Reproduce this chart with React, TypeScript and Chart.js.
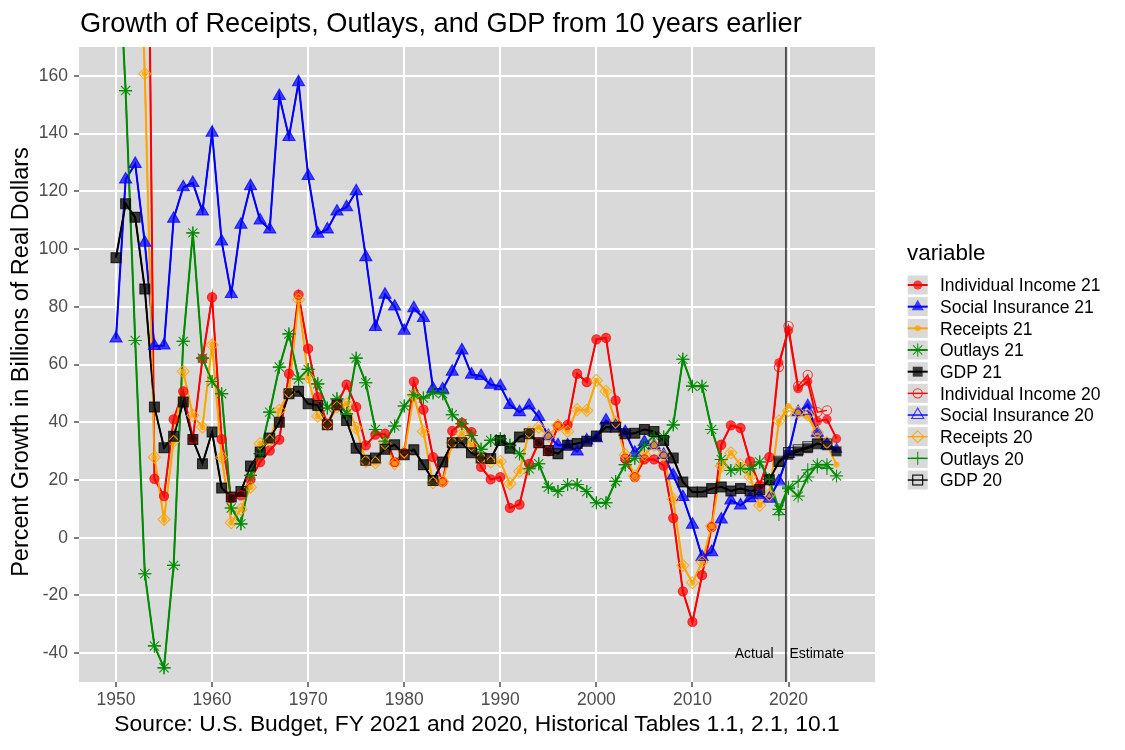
import React, { useEffect, useRef } from "react";
import { Chart, registerables } from "chart.js";

Chart.register(...registerables);

const FONT = "'Liberation Sans', Arial, Helvetica, sans-serif";

// ---------- data ----------
const years = [
  1950, 1951, 1952, 1953, 1954, 1955, 1956, 1957, 1958, 1959,
  1960, 1961, 1962, 1963, 1964, 1965, 1966, 1967, 1968, 1969,
  1970, 1971, 1972, 1973, 1974, 1975, 1976, 1977, 1978, 1979,
  1980, 1981, 1982, 1983, 1984, 1985, 1986, 1987, 1988, 1989,
  1990, 1991, 1992, 1993, 1994, 1995, 1996, 1997, 1998, 1999,
  2000, 2001, 2002, 2003, 2004, 2005, 2006, 2007, 2008, 2009,
  2010, 2011, 2012, 2013, 2014, 2015, 2016, 2017, 2018, 2019,
  2020, 2021, 2022, 2023, 2024, 2025,
];

const individualIncome21 = [
  900, 700, 520, 345, 20.4, 14.4, 41, 50.7, 34.3, 62,
  83.3, 34.1, 13.7, 14.7, 20.2, 26.2, 30.2, 34, 56.8, 84.2,
  65.5, 48.7, 39.5, 46, 53, 45.3, 32, 35.7, 36, 26.2,
  29.4, 54.1, 44.4, 27.9, 19.3, 37, 39.8, 36.6, 24.5, 20.2,
  21, 10.3, 11.5, 25.6, 32.9, 29.9, 38.7, 39.1, 56.8, 53.9,
  68.7, 69.2, 47.6, 27.4, 21, 27.1, 27.1, 25, 6.8, -18.6,
  -29.2, -13, 3.7, 32.2, 38.9, 38, 26.4, 18.1, 27.9, 60.6,
  71.8, 51.6, 54.1, 40.3, 41, 34.3,
];

const socialInsurance21 = [
  69, 124.1, 129.5, 102.2, 66.4, 66.6, 110.5, 121.4, 122.9, 113,
  140.3, 102.6, 84.4, 108.4, 121.8, 109.9, 106.8, 153, 138.8, 157.8,
  125.3, 105.3, 106.8, 113, 114.5, 120, 97.2, 73, 84.2, 80.1,
  71.7, 79.5, 76.1, 51.6, 51.4, 57.5, 64.9, 56.5, 56, 53,
  52.5, 46, 43.5, 45.8, 41.8, 35.2, 32, 32, 29.9, 33.7,
  34.5, 40.6, 38.7, 36.6, 29.4, 33.1, 32, 28.7, 21.6, 14.1,
  4.5, -6.7, -5, 6.3, 12.9, 11.2, 13.7, 14.7, 13.5, 19.8,
  29.4, 43.5, 46, 36, 32.6, 30.6,
];

const receipts21 = [
  300, 330, 251, 160.7, 27.9, 6.3, 33.4, 57.6, 42.4, 38.3,
  66.8, 27.9, 5.2, 9.8, 17.5, 32.6, 33.7, 44.1, 50.4, 82.5,
  55.6, 42.1, 39.1, 45.3, 46.4, 38, 26.4, 26, 32.6, 25.6,
  29.7, 49.3, 36.8, 19, 19.5, 32.9, 36, 32, 27.6, 26.2,
  26.4, 18.7, 23, 36.6, 38.3, 35.2, 38.9, 36.8, 44.4, 44.1,
  54.5, 50.7, 40, 28.7, 21.4, 28.7, 32, 28.5, 13.3, -9.6,
  -15.6, -8.4, 4, 24.8, 29.4, 25.3, 21, 11.2, 14.9, 40.3,
  45.6, 43.3, 42.1, 35.4, 32.2, 25.3,
];

const outlays21 = [
  223, 154.9, 68.3, -12.5, -37.5, -45.1, -9.6, 68, 105.6, 62.2,
  54.1, 49.9, 10.3, 4.8, 21.6, 29.1, 43.5, 59.1, 70.6, 55,
  58.3, 53.3, 44.9, 48.1, 42.9, 62.2, 53.7, 37.5, 33.4, 38.7,
  45.6, 49.5, 48.4, 50.2, 49.9, 42.6, 39.5, 35.4, 30.6, 33.7,
  34.3, 32, 29.1, 23.9, 25.6, 17.5, 16, 18.4, 18.4, 16,
  12.1, 12.1, 19.5, 25.3, 27.5, 32, 35.4, 34.9, 39.1, 61.8,
  52.5, 52.5, 37.5, 27.1, 23.3, 23.9, 23.9, 26.2, 20.2, 9.8,
  17.5, 14.4, 21, 25.3, 25.3, 21.4,
];

const gdp21 = [
  97, 115.7, 111, 86.2, 45.3, 31.2, 35.1, 47, 34, 25.6,
  36.6, 17.2, 14.1, 16, 24.8, 29.7, 34.5, 40, 49.9, 50.7,
  46.4, 45.8, 39.1, 46, 40.6, 31, 26.8, 27.6, 30.6, 32.2,
  28.7, 30.5, 25.3, 19.8, 26.2, 32.9, 32.9, 29.4, 27.6, 27.4,
  33.7, 31, 34.9, 36, 32.9, 30.2, 29.1, 32, 32.6, 33.4,
  35.2, 38.3, 38.3, 36, 36.2, 37.5, 36.8, 33.7, 27.6, 19.3,
  15.8, 15.8, 17, 17.6, 16.2, 17, 16.2, 16.7, 20.1, 26.2,
  28.7, 29.9, 31, 32.6, 32, 29.9,
];

// FY2020 budget: same actuals through 2018 (read as overlapping), own estimates 2019-2024
const actualCount = 69; // 1950..2018
const individualIncome20 = [...individualIncome21.slice(0, actualCount), 59.1, 73.3, 52.5, 56.4, 43.5, 44.1];
const socialInsurance20 = [...socialInsurance21.slice(0, actualCount), 19.5, 29, 43.5, 44, 36.5, 32];
const receipts20 = [...receipts21.slice(0, actualCount), 40.5, 44, 43.5, 42.5, 36.5, 33];
const outlays20 = [...outlays21.slice(0, actualCount), 8, 17, 19.5, 23.5, 24.5, 24];
const gdp20 = [...gdp21.slice(0, actualCount), 26.5, 29.5, 30.5, 31.5, 32.5, 32.5];

const xTicks = [1950, 1960, 1970, 1980, 1990, 2000, 2010, 2020];
const yTicks = [-40, -20, 0, 20, 40, 60, 80, 100, 120, 140, 160];
const dividerYear = 2019.73;

// ---------- styles ----------
type Series = {
  label: string;
  data: number[];
  color: string;
  fill: string;
  style: string;
  radius: number;
  filled: boolean;
  lineWidth: number;
};

const series: Series[] = [
  { label: "Individual Income 21", data: individualIncome21, color: "#FF0000", fill: "rgba(255,0,0,0.72)", style: "circle", radius: 4.6, filled: true, lineWidth: 2 },
  { label: "Social Insurance 21", data: socialInsurance21, color: "#0000FF", fill: "rgba(0,0,255,0.72)", style: "triangle", radius: 7, filled: true, lineWidth: 2 },
  { label: "Receipts 21", data: receipts21, color: "#FFA500", fill: "rgba(255,165,0,0.8)", style: "circle", radius: 3, filled: true, lineWidth: 2 },
  { label: "Outlays 21", data: outlays21, color: "#008B00", fill: "rgba(0,139,0,0.9)", style: "star", radius: 6.5, filled: false, lineWidth: 2 },
  { label: "GDP 21", data: gdp21, color: "#000000", fill: "rgba(0,0,0,0.75)", style: "rect", radius: 7, filled: true, lineWidth: 2 },
  { label: "Individual Income 20", data: individualIncome20, color: "#FF0000", fill: "rgba(255,0,0,0.75)", style: "circle", radius: 4.6, filled: false, lineWidth: 1.4 },
  { label: "Social Insurance 20", data: socialInsurance20, color: "#0000FF", fill: "rgba(0,0,255,0.75)", style: "triangle", radius: 7, filled: false, lineWidth: 1.4 },
  { label: "Receipts 20", data: receipts20, color: "#FFA500", fill: "rgba(255,165,0,0.85)", style: "rectRot", radius: 6, filled: false, lineWidth: 1.4 },
  { label: "Outlays 20", data: outlays20, color: "#008B00", fill: "rgba(0,139,0,0.9)", style: "cross", radius: 6.5, filled: false, lineWidth: 1.4 },
  { label: "GDP 20", data: gdp20, color: "#000000", fill: "rgba(0,0,0,0.75)", style: "rect", radius: 7, filled: false, lineWidth: 1.4 },
];

const toPoints = (arr: number[]) => arr.map((v, i) => ({ x: years[i], y: v }));

const panelPlugin = {
  id: "panelBg",
  beforeDraw(chart: any) {
    const { ctx, chartArea } = chart;
    ctx.save();
    ctx.fillStyle = "#D9D9D9";
    ctx.fillRect(chartArea.left, chartArea.top, chartArea.right - chartArea.left, chartArea.bottom - chartArea.top);
    ctx.restore();
  },
  beforeDatasetsDraw(chart: any) {
    const { ctx, chartArea, scales } = chart;
    const x = scales.x.getPixelForValue(dividerYear);
    ctx.save();
    ctx.beginPath();
    ctx.rect(chartArea.left, chartArea.top, chartArea.right - chartArea.left, chartArea.bottom - chartArea.top);
    ctx.clip();
    ctx.strokeStyle = "#000";
    ctx.lineWidth = 1.2;
    ctx.beginPath();
    ctx.moveTo(x, chartArea.top);
    ctx.lineTo(x, chartArea.bottom);
    ctx.stroke();
    const y = scales.y.getPixelForValue(-40) + 5;
    ctx.fillStyle = "#000";
    ctx.font = `14px ${FONT}`;
    ctx.textBaseline = "alphabetic";
    ctx.textAlign = "right";
    ctx.fillText("Actual", scales.x.getPixelForValue(2018.45), y);
    ctx.textAlign = "left";
    ctx.fillText("Estimate", scales.x.getPixelForValue(2020.1), y);
    ctx.restore();
  },
};

function LegendKey({ s, cy }: { s: Series; cy: number }) {
  const cx = 917.7;
  const c = s.color;
  const f = s.filled ? s.fill : "none";
  let mark: any = null;
  if (s.style === "circle") {
    mark = <circle cx={cx} cy={cy} r={s.radius} fill={f} stroke={s.filled ? "none" : s.fill} strokeWidth={1.1} />;
  } else if (s.style === "triangle") {
    const r = s.radius;
    const pts = [
      [cx, cy - r],
      [cx + r * 0.866, cy + r * 0.5],
      [cx - r * 0.866, cy + r * 0.5],
    ].map((p) => p.join(",")).join(" ");
    mark = <polygon points={pts} fill={f} stroke={s.filled ? "none" : s.fill} strokeWidth={1.1} />;
  } else if (s.style === "rect") {
    const h = s.radius * 0.707;
    mark = <rect x={cx - h} y={cy - h} width={2 * h} height={2 * h} fill={f} stroke={s.filled ? "none" : "#000"} strokeWidth={1.1} />;
  } else if (s.style === "rectRot") {
    const r = s.radius;
    const pts = [[cx - r, cy], [cx, cy - r], [cx + r, cy], [cx, cy + r]].map((p) => p.join(",")).join(" ");
    mark = <polygon points={pts} fill="none" stroke={s.fill} strokeWidth={1.1} />;
  } else if (s.style === "cross") {
    const r = s.radius;
    mark = (
      <g stroke={s.fill} strokeWidth={1.1}>
        <line x1={cx - r} y1={cy} x2={cx + r} y2={cy} />
        <line x1={cx} y1={cy - r} x2={cx} y2={cy + r} />
      </g>
    );
  } else if (s.style === "star") {
    const r = s.radius;
    const d = r * 0.707;
    mark = (
      <g stroke={s.fill} strokeWidth={1.1}>
        <line x1={cx - r} y1={cy} x2={cx + r} y2={cy} />
        <line x1={cx} y1={cy - r} x2={cx} y2={cy + r} />
        <line x1={cx - d} y1={cy - d} x2={cx + d} y2={cy + d} />
        <line x1={cx - d} y1={cy + d} x2={cx + d} y2={cy - d} />
      </g>
    );
  }
  return (
    <g>
      <rect x={907.7} y={cy - 9.5} width={20} height={19} fill="#D9D9D9" />
      <line x1={907.7} y1={cy} x2={927.7} y2={cy} stroke={c} strokeWidth={s.lineWidth} />
      {mark}
      <text x={940} y={cy + 6.3} fontSize={17.5} fontFamily={FONT} fill="#000">
        {s.label}
      </text>
    </g>
  );
}

export default function App() {
  const canvasRef = useRef<HTMLCanvasElement | null>(null);

  useEffect(() => {
    const canvas = canvasRef.current;
    if (!canvas) return;

    const lineSets = series.map((s, i) => ({
      label: s.label + " line",
      data: toPoints(s.data),
      borderColor: s.color,
      backgroundColor: s.color,
      borderWidth: s.lineWidth,
      pointRadius: 0,
      pointHoverRadius: 0,
      tension: 0,
      fill: false,
      spanGaps: false,
      order: 200 - i,
    }));
    const pointSets = series.map((s, i) => ({
      label: s.label,
      data: toPoints(s.data),
      showLine: false,
      pointStyle: s.style,
      pointRadius: s.radius,
      pointHoverRadius: s.radius,
      pointBackgroundColor: s.filled ? s.fill : "rgba(0,0,0,0)",
      pointBorderColor: s.filled && s.style !== "star" ? "rgba(0,0,0,0)" : s.fill,
      pointBorderWidth: s.filled && s.style !== "star" ? 0 : 1.1,
      order: 100 - i,
    }));

    const chart = new Chart(canvas, {
      type: "line",
      data: { datasets: [...lineSets, ...pointSets] as any },
      options: {
        responsive: false,
        maintainAspectRatio: false,
        animation: false,
        devicePixelRatio: 1,
        layout: { padding: { top: 47, right: 250, left: 0, bottom: 0 } },
        plugins: {
          legend: { display: false },
          title: { display: false },
          tooltip: { enabled: false },
        },
        events: [],
        scales: {
          x: {
            type: "linear",
            min: 1946.15,
            max: 2029.0,
            afterBuildTicks: (scale: any) => {
              scale.ticks = xTicks.map((v) => ({ value: v }));
            },
            afterFit: (scale: any) => {
              scale.height = 68;
            },
            ticks: {
              autoSkip: false,
              maxRotation: 0,
              color: "#4D4D4D",
              font: { family: FONT, size: 17.5 },
              padding: 3,
              callback: (v: any) => String(v),
            },
            grid: {
              color: "#FFFFFF",
              lineWidth: 2,
              drawTicks: true,
              tickLength: 5,
              tickColor: "#333333",
              tickWidth: 1.3,
            },
            border: { display: false },
          },
          y: {
            type: "linear",
            min: -50,
            max: 170,
            afterBuildTicks: (scale: any) => {
              scale.ticks = yTicks.map((v) => ({ value: v }));
            },
            afterFit: (scale: any) => {
              scale.width = 79;
            },
            ticks: {
              color: "#4D4D4D",
              font: { family: FONT, size: 17.5 },
              padding: 6,
              callback: (v: any) => String(v),
            },
            grid: {
              color: "#FFFFFF",
              lineWidth: 2,
              drawTicks: true,
              tickLength: 5,
              tickColor: "#333333",
              tickWidth: 1.3,
            },
            border: { display: false },
          },
        },
      } as any,
      plugins: [panelPlugin],
    });

    return () => {
      chart.destroy();
    };
  }, []);

  return (
    <div style={{ position: "absolute", left: 0, top: 0, width: 1125, height: 750, background: "#FFFFFF", overflow: "hidden" }}>
      <canvas ref={canvasRef} width={1125} height={750} style={{ position: "absolute", left: 0, top: 0, width: 1125, height: 750 }} />
      <svg width={1125} height={750} style={{ position: "absolute", left: 0, top: 0, pointerEvents: "none" }}>
        <text x={80} y={31.7} fontSize={27.2} fontFamily={FONT} fill="#000">
          Growth of Receipts, Outlays, and GDP from 10 years earlier
        </text>
        <text transform="translate(28.3,362) rotate(-90)" textAnchor="middle" fontSize={23.5} fontFamily={FONT} fill="#000">
          Percent Growth in Billions of Real Dollars
        </text>
        <text x={477} y={731} textAnchor="middle" fontSize={22.8} fontFamily={FONT} fill="#000">
          Source: U.S. Budget, FY 2021 and 2020, Historical Tables 1.1, 2.1, 10.1
        </text>
        <text x={907} y={260} fontSize={22.4} fontFamily={FONT} fill="#000">
          variable
        </text>
        {series.map((s, i) => (
          <LegendKey key={s.label} s={s} cy={285 + i * 21.67} />
        ))}
      </svg>
    </div>
  );
}
